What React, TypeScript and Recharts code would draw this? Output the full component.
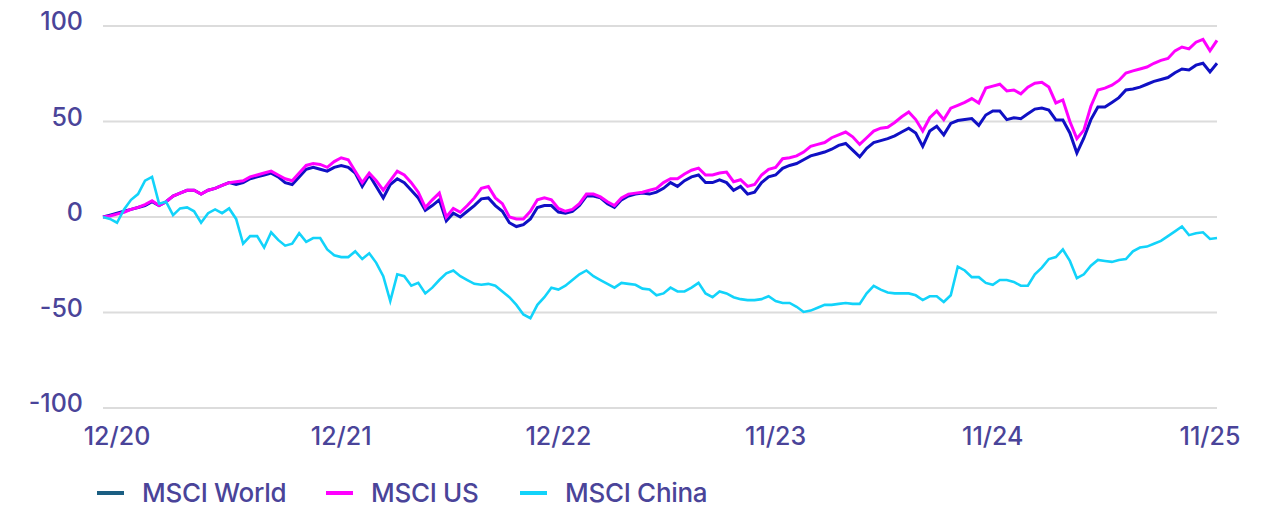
import React from "react";
import { LineChart, Line, XAxis, YAxis, CartesianGrid } from "recharts";

// performance since 12/2020, in % at even steps
const msciWorld = [
  0, 1, 2, 3, 4, 5, 6, 8, 6, 8, 11, 12.5, 14, 14, 12, 14, 15, 16.5, 18, 17,
  18, 20, 21, 22, 23, 21, 18, 17, 21, 25, 26, 25, 24, 26, 27, 26, 23, 16, 22, 16,
  10, 17, 20, 18, 14, 10, 3.5, 6, 9, -2, 2, 0, 3, 6, 9.5, 10, 6, 3, -3, -5,
  -4, -1, 5, 6, 6, 2.6, 2, 3, 6, 11, 11, 10, 7, 5, 9, 11, 12, 12.5, 12, 13,
  15, 18, 16, 19, 21, 22, 18, 18, 19.5, 18, 14, 16, 12, 13, 18, 21, 22, 25.5, 27, 28,
  30, 32, 33, 34, 35.5, 37.5, 38.5, 35, 31.5, 36, 39, 40, 41, 42.5, 44.5, 46.5, 44, 37, 45, 47.5,
  43, 49, 50.5, 51, 51.5, 48, 53.4, 55.5, 55.5, 51, 52, 51.5, 54, 56.5, 57, 56, 50.8, 50.8, 44, 33.5,
  41.4, 51, 57.6, 57.6, 60, 62.5, 66.5, 67, 68, 69.5, 71, 72, 73, 75.5, 77.5, 77, 79.5, 80.5, 76, 80.5,
];

const msciUS = [
  0, 0.5, 1.5, 2.5, 4, 5, 6.5, 8.5, 6, 8, 11, 12.5, 14, 14, 12, 14, 15, 16.5, 18, 18.5,
  19, 21, 22, 23, 24, 22, 20, 19, 23, 27, 28, 27.5, 26, 29, 31, 30, 24, 18, 23, 19,
  14, 19, 24, 22, 18, 13, 5, 9, 12.5, 0, 4.5, 2.5, 6, 10, 15, 16, 10, 7, 0, -1,
  -1, 3, 9, 10, 9, 4.5, 3, 4, 7, 12, 12, 10.5, 8, 6, 10, 12, 12.5, 13, 14, 15,
  18, 20, 20, 22.5, 24.5, 25.6, 22, 22, 23, 23.5, 18.5, 19.5, 16, 17, 22, 25, 26, 30.5, 31, 32,
  34, 37, 38, 39, 41.5, 43, 44.5, 42, 38, 41.5, 45, 46.5, 47, 49.5, 52.5, 55, 51, 45, 52, 55.5,
  51, 57, 58.5, 60, 62, 59.7, 67.5, 68.5, 69.5, 66, 66.5, 64.5, 68, 70, 70.5, 68, 59.7, 61.3, 50, 41,
  45.5, 58, 66.5, 67.5, 69, 71.5, 75.4, 76.5, 77.5, 78.5, 80.5, 82, 83, 87, 89, 88, 91.5, 93, 87, 92.5,
];

const msciChina = [
  0, -1, -3, 4, 9, 12, 19, 21, 7, 8, 1, 4.5, 5, 3, -3, 2, 4, 2, 4.5, -1,
  -14, -10, -10, -16, -8, -12, -15, -14, -8.5, -13, -11, -11, -17, -20, -21, -21, -18, -22, -19, -24,
  -31, -44, -30, -31, -36, -34.5, -40, -37, -33, -29.5, -28, -31, -33, -35, -35.5, -35, -36, -39, -42, -46,
  -51, -53, -46, -42, -37, -38, -36, -33, -30, -28, -31, -33, -35, -37, -34.5, -35, -35.5, -37.5, -38, -41,
  -40, -37, -39, -39, -37, -34.5, -40, -42, -39, -40, -42, -43, -43.5, -43.5, -43, -41.5, -44, -45, -45, -47,
  -49.7, -49, -47.5, -46, -46, -45.5, -45, -45.5, -45.5, -40, -36, -38, -39.5, -40, -40, -40, -41, -43.5, -41.5, -41.5,
  -44.5, -41, -26, -28, -31.5, -31.5, -34.5, -35.5, -33, -33, -34, -36, -36, -30, -26.5, -22, -21, -17, -23, -32,
  -30, -25.5, -22.5, -23, -23.5, -22.5, -22, -18, -16, -15.5, -14, -12.5, -10, -7.5, -5, -9.5, -8.5, -8, -11.5, -11,
];

const xTicks = [2, 34, 65, 96, 127, 158];
const xTickLabels = ["12/20", "12/21", "12/22", "11/23", "11/24", "11/25"];
const yTicks = [-100, -50, 0, 50, 100];

const series = [
  { key: "world", name: "MSCI World", color: "#1010c4", swatch: "#1b5e82", width: 3, legendX: 97 },
  { key: "us", name: "MSCI US", color: "#ff00ff", swatch: "#ff00ff", width: 3, legendX: 326 },
  { key: "china", name: "MSCI China", color: "#12d3fa", swatch: "#12d3fa", width: 2.6, legendX: 520 },
];

const data = msciWorld.map((w, i) => ({
  i,
  world: w,
  us: msciUS[i],
  china: msciChina[i],
}));

const FONT = "Inter, 'Open Sans', sans-serif";
const TEXT_COLOR = "#4a4499";

const XTick = (props: any) => {
  const { x, y, payload } = props;
  const idx = xTicks.indexOf(payload.value);
  return (
    <text x={x} y={y + 37} textAnchor="middle" fill={TEXT_COLOR} fontSize={25} fontWeight={500} fontFamily={FONT}>
      {xTickLabels[idx]}
    </text>
  );
};

const YTick = (props: any) => {
  const { x, y, payload } = props;
  return (
    <text x={x} y={y + 4} textAnchor="end" fill={TEXT_COLOR} fontSize={25} fontWeight={500} fontFamily={FONT}>
      {payload.value}
    </text>
  );
};

export default function App() {
  return (
    <div style={{ position: "absolute", left: 0, top: 0, width: 1274, height: 506, background: "#fff" }}>
      <LineChart
        width={1274}
        height={506}
        data={data}
        margin={{ top: 26, right: 57, left: 0, bottom: 48 }}
      >
        <CartesianGrid vertical={false} stroke="#dcdcdc" strokeWidth={2} />
        <XAxis
          dataKey="i"
          type="number"
          domain={[0, msciWorld.length - 1]}
          ticks={xTicks}
          tick={<XTick />}
          tickSize={0}
          tickMargin={0}
          axisLine={false}
          tickLine={false}
          height={50}
        />
        <YAxis
          type="number"
          domain={[-100, 100]}
          ticks={yTicks}
          tick={<YTick />}
          tickSize={0}
          tickMargin={20}
          axisLine={false}
          tickLine={false}
          width={103}
        />
        {series.map((s) => (
          <Line
            key={s.key}
            type="linear"
            dataKey={s.key}
            name={s.name}
            stroke={s.color}
            strokeWidth={s.width}
            dot={false}
            activeDot={false}
            isAnimationActive={false}
          />
        ))}
      </LineChart>
      {series.map((s) => (
        <div
          key={s.key}
          style={{
            position: "absolute",
            left: s.legendX,
            top: 480,
            height: 26,
            display: "flex",
            alignItems: "center",
            fontFamily: FONT,
            fontSize: 26,
            fontWeight: 500,
            lineHeight: "26px",
            color: TEXT_COLOR,
            whiteSpace: "nowrap",
          }}
        >
          <span style={{ display: "inline-block", width: 27, height: 4, background: s.swatch, marginRight: 18 }} />
          <span style={{ letterSpacing: -0.3 }}>{s.name}</span>
        </div>
      ))}
    </div>
  );
}
